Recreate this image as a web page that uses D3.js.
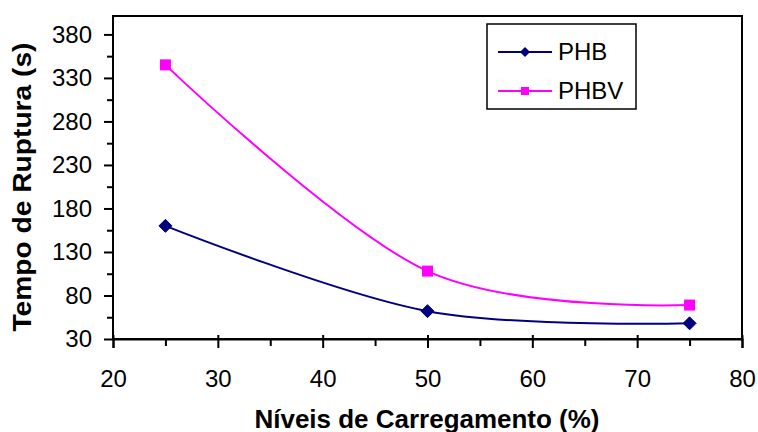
<!DOCTYPE html>
<html>
<head>
<meta charset="utf-8">
<script src="https://cdn.jsdelivr.net/npm/d3@7"></script>
<style>
  body { margin: 0; background: #fff; }
  svg { display: block; }
  text { font-family: Arial, "Liberation Sans", sans-serif; }
</style>
</head>
<body>
<svg id="chart" width="758" height="432"></svg>
<script>
// Data
const levels = [25, 50, 75];
const phb = [160, 62, 48];
const phbv = [345, 108, 69];
const seriesNames = ["PHB", "PHBV"];
const xTicks = [20, 30, 40, 50, 60, 70, 80];
const yTicks = [30, 80, 130, 180, 230, 280, 330, 380];
const xMinor = [25, 35, 45, 55, 65, 75];
const yMinor = [55, 105, 155, 205, 255, 305, 355];

(function () {
const svg = d3.select("#chart");
const pLeft = 113, pRight = 742, pTop = 16, pBottom = 339;

const x = d3.scaleLinear().domain([20, 80]).range([pLeft, pRight]);
const y = d3.scaleLinear().domain([30, 400]).range([pBottom, pTop + 1]);

const colors = { PHB: "#000080", PHBV: "#FF00FF" };
const font = "Arial, 'Liberation Sans', sans-serif";

// Frame
svg.append("rect").attr("x", pLeft).attr("y", pTop)
  .attr("width", pRight - pLeft).attr("height", pBottom - pTop)
  .attr("fill", "none").attr("stroke", "#000").attr("stroke-width", 2);

// X axis
const xAxis = d3.axisBottom(x).tickValues(xTicks).tickSize(9).tickPadding(22)
  .tickFormat(d3.format("d"));
const gx = svg.append("g").attr("transform", `translate(0,${pBottom})`).call(xAxis);
gx.select(".domain").attr("stroke-width", 2);
gx.selectAll(".tick line").attr("y1", -4).attr("stroke-width", 2);
gx.selectAll(".tick text").attr("font-size", 24).attr("font-family", font).attr("fill", "#000");
const gxm = svg.append("g").attr("transform", `translate(0,${pBottom})`)
  .call(d3.axisBottom(x).tickValues(xMinor).tickSize(7).tickFormat(""));
gxm.select(".domain").remove();
gxm.selectAll(".tick line").attr("stroke-width", 2);

// Y axis
const yAxis = d3.axisLeft(y).tickValues(yTicks).tickSize(9).tickPadding(12)
  .tickFormat(d3.format("d"));
const gy = svg.append("g").attr("transform", `translate(${pLeft},0)`).call(yAxis);
gy.select(".domain").remove();
gy.selectAll(".tick line").attr("stroke-width", 2);
gy.selectAll(".tick text").attr("font-size", 24).attr("font-family", font).attr("fill", "#000");
const gym = svg.append("g").attr("transform", `translate(${pLeft},0)`)
  .call(d3.axisLeft(y).tickValues(yMinor).tickSize(6).tickFormat(""));
gym.select(".domain").remove();
gym.selectAll(".tick line").attr("stroke-width", 2);

// Axis titles
svg.append("text").attr("x", 427).attr("y", 428).attr("text-anchor", "middle")
  .attr("font-size", 25).attr("font-weight", "bold")
  .attr("textLength", 345).attr("lengthAdjust", "spacingAndGlyphs")
  .text("Níveis de Carregamento (%)");
svg.append("text").attr("transform", "translate(31,187) rotate(-90)")
  .attr("text-anchor", "middle").attr("font-size", 25).attr("font-weight", "bold")
  .attr("textLength", 289).attr("lengthAdjust", "spacingAndGlyphs")
  .text("Tempo de Ruptura (s)");

// Lines
const line = d3.line().x(d => x(d[0])).y(d => y(d[1])).curve(d3.curveCardinal.tension(0));
const data = {
  PHB: levels.map((l, i) => [l, phb[i]]),
  PHBV: levels.map((l, i) => [l, phbv[i]])
};
seriesNames.forEach(name => {
  svg.append("path").datum(data[name]).attr("d", line)
    .attr("fill", "none").attr("stroke", colors[name]).attr("stroke-width", 2);
});

// Markers
const diamond = s => `M0,${-s}L${s},0L0,${s}L${-s},0Z`;
svg.append("g").selectAll("path").data(data.PHB).join("path")
  .attr("transform", d => `translate(${x(d[0])},${y(d[1])})`)
  .attr("d", diamond(6.5)).attr("fill", colors.PHB).attr("stroke", colors.PHB);
svg.append("g").selectAll("rect").data(data.PHBV).join("rect")
  .attr("x", d => x(d[0]) - 5.5).attr("y", d => y(d[1]) - 5.5)
  .attr("width", 11).attr("height", 11).attr("fill", colors.PHBV);

// Legend
const lg = svg.append("g");
lg.append("rect").attr("x", 487).attr("y", 24).attr("width", 149).attr("height", 85)
  .attr("fill", "#fff").attr("stroke", "#000").attr("stroke-width", 1.5);
const rows = [52, 91];
seriesNames.forEach((name, i) => {
  const yy = rows[i];
  lg.append("line").attr("x1", 498).attr("x2", 552).attr("y1", yy).attr("y2", yy)
    .attr("stroke", colors[name]).attr("stroke-width", 2);
  if (name === "PHB") {
    lg.append("path").attr("transform", `translate(525,${yy})`).attr("d", diamond(5)).attr("fill", colors[name]);
  } else {
    lg.append("rect").attr("x", 521).attr("y", yy - 4).attr("width", 8).attr("height", 8).attr("fill", colors[name]);
  }
  lg.append("text").attr("x", 558).attr("y", yy + 8).attr("font-size", 24).text(name);
});
})();
</script>
</body>
</html>
